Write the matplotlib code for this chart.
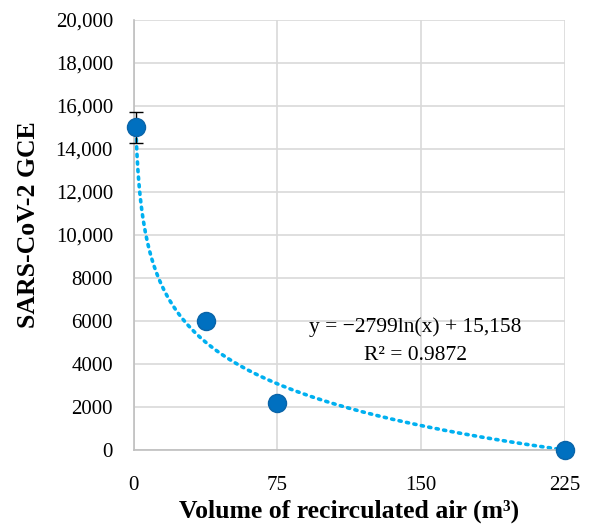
import numpy as np
import matplotlib
matplotlib.use("Agg")
from matplotlib import pyplot as plt
from matplotlib.ticker import FuncFormatter

# data
volume = [1, 37.5, 75, 225]
gce = [15000, 6000, 2200, 0]
gce_err = [720, 250, 150, 100]

# Excel trendline coefficients
slope = -2799
intercept = 15158
r2 = 0.9872

x_ticks = [0, 75, 150, 225]
y_ticks = list(range(0, 20001, 2000))

plt.rcParams['font.family'] = ['Liberation Serif', 'DejaVu Serif']

fig = plt.figure(figsize=(5.92, 5.25), dpi=100)
ax = fig.add_axes([0.226, 0.143, 0.728, 0.819])

xfit = np.linspace(volume[0], volume[-1], 400)
yfit = slope * np.log(xfit) + intercept
ax.plot(xfit, yfit, color='#00B0F0', lw=2.6, linestyle=(0, (0.6, 1.5)),
        dash_capstyle='round', zorder=2, clip_on=False)

eb = ax.errorbar(volume, gce, yerr=gce_err, fmt='o', ms=13, color='#0070C0',
                 mec='#0A64A8', mew=1, ecolor='black', elinewidth=1, capsize=5,
                 capthick=1, zorder=3)
for art in eb.get_children():
    art.set_clip_on(False)

ax.set_xlim(0, 225)
ax.set_ylim(0, 20000)
ax.set_xticks(x_ticks)
ax.set_yticks(y_ticks)

def fmt_y(v, pos):
    v = int(v)
    return f"{v:,}" if v >= 10000 else str(v)

ax.yaxis.set_major_formatter(FuncFormatter(fmt_y))
ax.tick_params(length=0, labelsize=15, colors='black')
ax.tick_params(axis='y', pad=15)
ax.tick_params(axis='x', pad=19)

ax.grid(True, color='#d9d9d9', lw=1.2)
ax.set_axisbelow(True)
for side in ['top', 'right']:
    ax.spines[side].set_visible(False)
for side in ['left', 'bottom']:
    ax.spines[side].set_color('#bfbfbf')
    ax.spines[side].set_linewidth(1.2)

ax.set_xlabel('Volume of recirculated air (m\u00b3)', fontsize=18.5,
              fontweight='bold', labelpad=3)
ax.set_ylabel('SARS-CoV-2 GCE', fontsize=18.5, fontweight='bold')
ax.yaxis.set_label_coords(-0.218, 0.525)

ax.text(147, 6150, f"y = \u22122799ln(x) + 15,158\nR\u00b2 = {r2}",
        fontsize=15.5, ha='center', va='top', linespacing=1.6)

fig.savefig('out.png', dpi=100)
